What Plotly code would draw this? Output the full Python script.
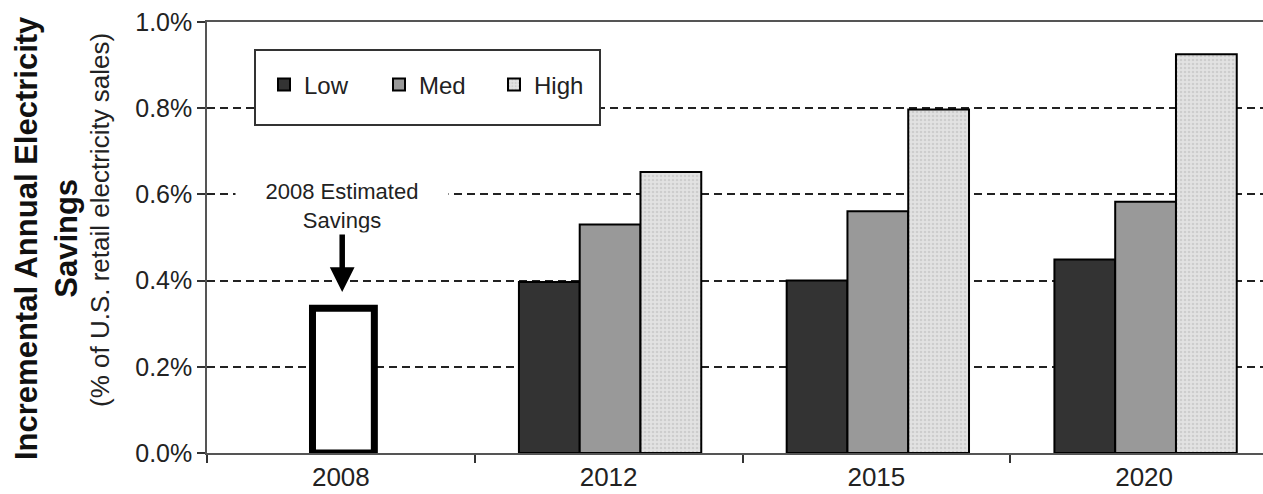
import plotly.graph_objects as go

categories = ["2008", "2012", "2015", "2020"]
scenario_years = ["2012", "2015", "2020"]
low = [0.397, 0.400, 0.449]
med = [0.530, 0.561, 0.583]
high = [0.652, 0.797, 0.925]
est_2008 = [0.336]
y_ticks = [0.0, 0.2, 0.4, 0.6, 0.8, 1.0]
y_tick_text = [f"{v:.1f}%" for v in y_ticks]

FONT = "Liberation Sans, Arial, sans-serif"
BW = 0.227

fig = go.Figure()
fig.add_trace(go.Bar(x=["2008"], y=est_2008, name="2008", showlegend=False,
                     width=0.231, offset=-0.106,
                     marker=dict(color="white", line=dict(color="black", width=7))))
fig.add_trace(go.Bar(x=scenario_years, y=low, name="Low", width=BW, offset=-0.335,
                     marker=dict(color="#333333", line=dict(color="black", width=2))))
fig.add_trace(go.Bar(x=scenario_years, y=med, name="Med", width=BW, offset=-0.108,
                     marker=dict(color="#999999", line=dict(color="black", width=2))))
fig.add_trace(go.Bar(x=scenario_years, y=high, name="High", width=BW, offset=0.119,
                     marker=dict(color="#dcdcdc", line=dict(color="black", width=2),
                                 pattern=dict(shape=".", fgcolor="#b8b8b8", bgcolor="#e2e2e2",
                                              size=4, solidity=0.35))))

L, R, T, B = 207, 0, 22, 41
W, H = 1263, 494
pw = W - L - R
ph = H - T - B

def px_x(px):
    return (px - L) / pw

def px_y(py):
    return (H - B - py) / ph

fig.update_layout(
    width=W, height=H,
    margin=dict(l=L, r=R, t=T, b=B),
    paper_bgcolor="white", plot_bgcolor="white",
    barmode="overlay",
    font=dict(family=FONT, color="#222222"),
    showlegend=True,
    legend=dict(orientation="h", x=px_x(264), y=px_y(85), xanchor="left", yanchor="middle",
                bgcolor="rgba(0,0,0,0)", borderwidth=0, font=dict(size=24, family=FONT),
                entrywidth=70, traceorder="normal"),
    xaxis=dict(type="category", categoryorder="array", categoryarray=categories,
               range=[-0.5, 3.444], tickson="boundaries", ticks="outside", ticklen=8,
               tickwidth=1.5, tickcolor="#333333",
               showline=True, linecolor="#555555", linewidth=1.5, mirror=True,
               showgrid=False, tickfont=dict(size=26, family=FONT)),
    yaxis=dict(range=[0, 1.0], tickmode="array", tickvals=y_ticks, ticktext=y_tick_text,
               ticks="outside", ticklen=8, tickwidth=1.5, tickcolor="#333333",
               showline=True, linecolor="#555555", linewidth=1.5,
               showgrid=True, gridcolor="#222222", gridwidth=1.5, griddash="8px,5px",
               zeroline=False, tickfont=dict(size=25, family=FONT)),
)

# legend frame
fig.add_shape(type="rect", xref="paper", yref="paper",
              x0=px_x(255), x1=px_x(600), y0=px_y(125), y1=px_y(50),
              fillcolor="white", line=dict(color="#333333", width=2), layer="above")

# axis titles
fig.add_annotation(xref="paper", yref="paper", x=px_x(46), y=px_y(238),
                   text="<b>Incremental Annual Electricity<br>Savings</b>", textangle=-90,
                   showarrow=False, xanchor="center", yanchor="middle",
                   font=dict(size=31, family=FONT, color="#111111"))
fig.add_annotation(xref="paper", yref="paper", x=px_x(100), y=px_y(220),
                   text="(% of U.S. retail electricity sales)", textangle=-90,
                   showarrow=False, xanchor="center", yanchor="middle",
                   font=dict(size=26, family=FONT, color="#222222"))

# 2008 callout (category index 0 on the x axis)
fig.add_annotation(x=0.005, y=0.3735, xref="x", yref="y",
                   text="2008 Estimated<br>Savings", showarrow=True,
                   ax=0, ay=-86, arrowhead=2, arrowsize=0.9, arrowwidth=5.5,
                   arrowcolor="black", bgcolor="white", width=210, borderpad=1,
                   font=dict(size=22, family=FONT, color="#222222"))

fig.write_html("out.html")
